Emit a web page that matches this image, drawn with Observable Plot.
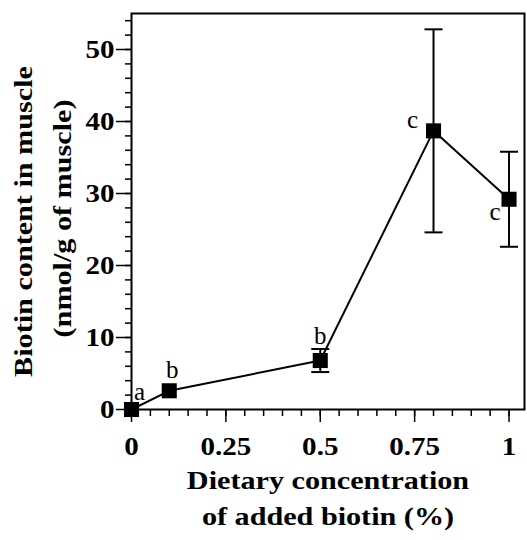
<!DOCTYPE html>
<html>
<head>
<meta charset="utf-8">
<script src="https://cdn.jsdelivr.net/npm/d3@7"></script>
<script src="https://cdn.jsdelivr.net/npm/@observablehq/plot@0.6"></script>
<style>
  html, body { margin: 0; padding: 0; background: #fff; }
  #chart svg { display: block; }
</style>
</head>
<body>
<div id="chart"></div>
<script>
// Data
const dose = [0, 0.1, 0.5, 0.8, 1.0];            // dietary added biotin (%)
const biotin = [0, 2.6, 6.8, 38.7, 29.2];         // nmol/g of muscle
const errorBar = [0, 0, 1.6, 14.1, 6.6];          // +/- error
const letters = ["a", "b", "b", "c", "c"];        // significance letters

const xMajor = [0, 0.25, 0.5, 0.75, 1];
const xMajorLabels = ["0", "0.25", "0.5", "0.75", "1"];
const yMajor = [0, 10, 20, 30, 40, 50];

const data = dose.map((d, i) => ({dose: d, biotin: biotin[i], err: errorBar[i], letter: letters[i]}));
const withErr = data.filter(d => d.err > 0);

// letter offsets (pixels) for each point
const letterOffsets = [[8, -18], [3, -21], [0, -25], [-21, -11], [-14, 13]];

const font = "'Liberation Serif', 'Times New Roman', serif";
const capSymbol = {
  draw(ctx) { ctx.moveTo(-9, 0); ctx.lineTo(9, 0); }
};

const xMinor = d3.range(0, 1.0401, 0.05).map(v => +v.toFixed(2));
const yMinor = d3.range(0, 55.01, 2);

const bold = {fontSize: 25, fontWeight: "bold", fontFamily: font};
const titleFont = {fontSize: 26, fontWeight: "bold", fontFamily: font};

const marks = [
  Plot.frame({stroke: "black", strokeWidth: 2}),
  Plot.axisX(xMinor, {tickSize: 7, tickFormat: () => "", strokeWidth: 1.5, label: null}),
  Plot.axisX(xMajor, {tickSize: 13, tickPadding: 15, strokeWidth: 1.5, label: null,
    tickFormat: (d, i) => xMajorLabels[i], ...bold}),
  Plot.axisY(yMinor, {tickSize: 6, tickFormat: () => "", strokeWidth: 1.5, label: null}),
  Plot.axisY(yMajor, {tickSize: 15, tickPadding: 2, strokeWidth: 1.5, label: null, ...bold}),
  Plot.ruleX(withErr, {x: "dose", y1: d => d.biotin - d.err, y2: d => d.biotin + d.err, stroke: "black", strokeWidth: 2}),
  Plot.dot(withErr, {x: "dose", y: d => d.biotin + d.err, symbol: capSymbol, r: 9, stroke: "black", strokeWidth: 2, fill: "none"}),
  Plot.dot(withErr, {x: "dose", y: d => d.biotin - d.err, symbol: capSymbol, r: 9, stroke: "black", strokeWidth: 2, fill: "none"}),
  Plot.line(data, {x: "dose", y: "biotin", stroke: "black", strokeWidth: 2}),
  Plot.dot(data, {x: "dose", y: "biotin", symbol: "square", r: 8.5, fill: "black", stroke: "none"}),
  ...data.map((d, i) => Plot.text([d], {x: "dose", y: "biotin", text: "letter",
    dx: letterOffsets[i][0], dy: letterOffsets[i][1], fontSize: 25, fontFamily: font, fill: "black",
    className: "sig-letter"})),
  Plot.text(["Dietary concentration"], {frameAnchor: "bottom", dy: 79, ...titleFont}),
  Plot.text(["of added biotin (%)"], {frameAnchor: "bottom", dy: 115, ...titleFont}),
  Plot.text(["Biotin content in muscle"], {frameAnchor: "left", textAnchor: "middle", dx: -108, dy: 10, rotate: -90, ...titleFont}),
  Plot.text(["(nmol/g of muscle)"], {frameAnchor: "left", textAnchor: "middle", dx: -69, dy: 7, rotate: -90, ...titleFont})
];

const chart = Plot.plot({
  width: 527,
  height: 540,
  marginLeft: 131,
  marginRight: 3,
  marginTop: 13,
  marginBottom: 131,
  style: {background: "white", color: "black", fontFamily: font, overflow: "visible"},
  x: {domain: [0, 1.041], axis: null},
  y: {domain: [0, 55], axis: null},
  clip: false,
  marks
});
document.getElementById("chart").append(chart);

// The reference bold typeface is set slightly wider than Times; stretch those glyphs horizontally.
const stretch = 1.16;
chart.querySelectorAll("text").forEach(t => {
  if (t.closest(".sig-letter")) return;
  const w = t.getComputedTextLength();
  if (w > 0) {
    t.setAttribute("textLength", (w * stretch).toFixed(1));
    t.setAttribute("lengthAdjust", "spacingAndGlyphs");
  }
});
</script>
</body>
</html>
